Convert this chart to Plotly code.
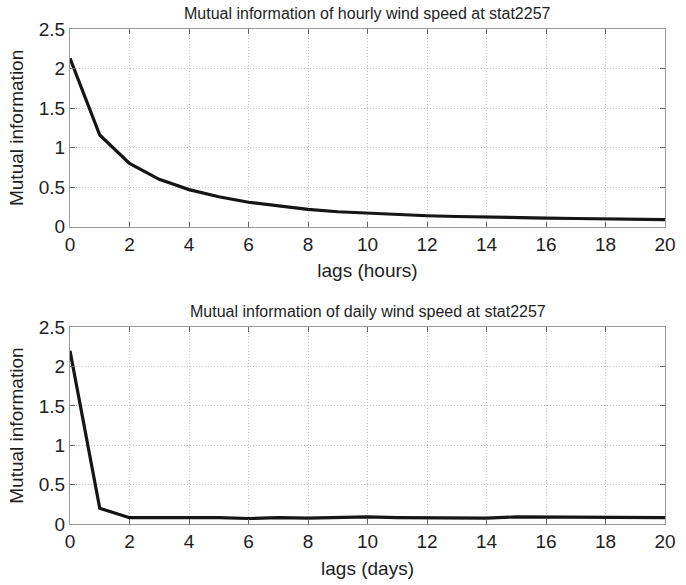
import plotly.graph_objects as go

# Lags (0..20) and mutual information values
lags = list(range(0, 21))
mi_hourly = [2.13, 1.16, 0.80, 0.60, 0.47, 0.38, 0.31, 0.26, 0.22, 0.19, 0.17,
             0.15, 0.14, 0.13, 0.12, 0.115, 0.11, 0.105, 0.10, 0.095, 0.09]
mi_daily = [2.20, 0.20, 0.08, 0.08, 0.09, 0.08, 0.07, 0.08, 0.075, 0.08, 0.09,
            0.08, 0.08, 0.085, 0.075, 0.09, 0.09, 0.08, 0.09, 0.08, 0.08]

x_ticks = list(range(0, 21, 2))
y_ticks = [0, 0.5, 1, 1.5, 2, 2.5]
y_tick_text = ["0", "0.5", "1", "1.5", "2", "2.5"]

titles = ["Mutual information of hourly wind speed at stat2257",
          "Mutual information of daily wind speed at stat2257"]
x_titles = ["lags (hours)", "lags (days)"]

FONT = "Arial, Liberation Sans, sans-serif"
TXT = "#1e1e1e"
LINE = "#151515"

fig = go.Figure()
fig.add_trace(go.Scatter(x=lags, y=mi_hourly, mode="lines",
                         line=dict(color=LINE, width=3.2), xaxis="x", yaxis="y",
                         showlegend=False))
fig.add_trace(go.Scatter(x=lags, y=mi_daily, mode="lines",
                         line=dict(color=LINE, width=3.2), xaxis="x2", yaxis="y2",
                         showlegend=False))

def xaxis(title, anchor):
    return dict(range=[0, 20], tickvals=x_ticks, ticks="inside", ticklen=5,
                tickcolor="#666", mirror="ticks", showline=True, linecolor="#999",
                linewidth=1, showgrid=True, gridcolor="#c4c4c4", griddash="1px,2px",
                gridwidth=1, zeroline=False, anchor=anchor,
                tickfont=dict(family=FONT, size=19, color=TXT),
                title=dict(text=title, font=dict(family=FONT, size=19, color=TXT),
                           standoff=10))

def yaxis(domain, anchor):
    return dict(range=[0, 2.5], tickvals=y_ticks, ticktext=y_tick_text,
                ticks="inside", ticklen=5, tickcolor="#666", mirror="ticks",
                showline=True, linecolor="#999", linewidth=1, showgrid=True,
                gridcolor="#c4c4c4", griddash="1px,2px", gridwidth=1, zeroline=False,
                domain=domain, anchor=anchor,
                tickfont=dict(family=FONT, size=19, color=TXT),
                title=dict(text="Mutual information",
                           font=dict(family=FONT, size=19, color=TXT), standoff=10))

fig.update_layout(
    width=686, height=585,
    margin=dict(l=70, r=10, t=29, b=58),
    paper_bgcolor="white", plot_bgcolor="white",
    xaxis=xaxis(x_titles[0], "y"),
    yaxis=yaxis([0.6004, 1.0], "x"),
    xaxis2=xaxis(x_titles[1], "y2"),
    yaxis2=yaxis([0.0, 0.3976], "x2"),
    annotations=[
        dict(text=titles[0], x=0.5, y=1.0, xref="x domain", yref="y domain",
             xanchor="center", yanchor="bottom", yshift=5, showarrow=False,
             font=dict(family=FONT, size=16, color=TXT)),
        dict(text=titles[1], x=0.5, y=1.0, xref="x2 domain", yref="y2 domain",
             xanchor="center", yanchor="bottom", yshift=5, showarrow=False,
             font=dict(family=FONT, size=16, color=TXT)),
    ],
)

fig.write_html("out.html")
